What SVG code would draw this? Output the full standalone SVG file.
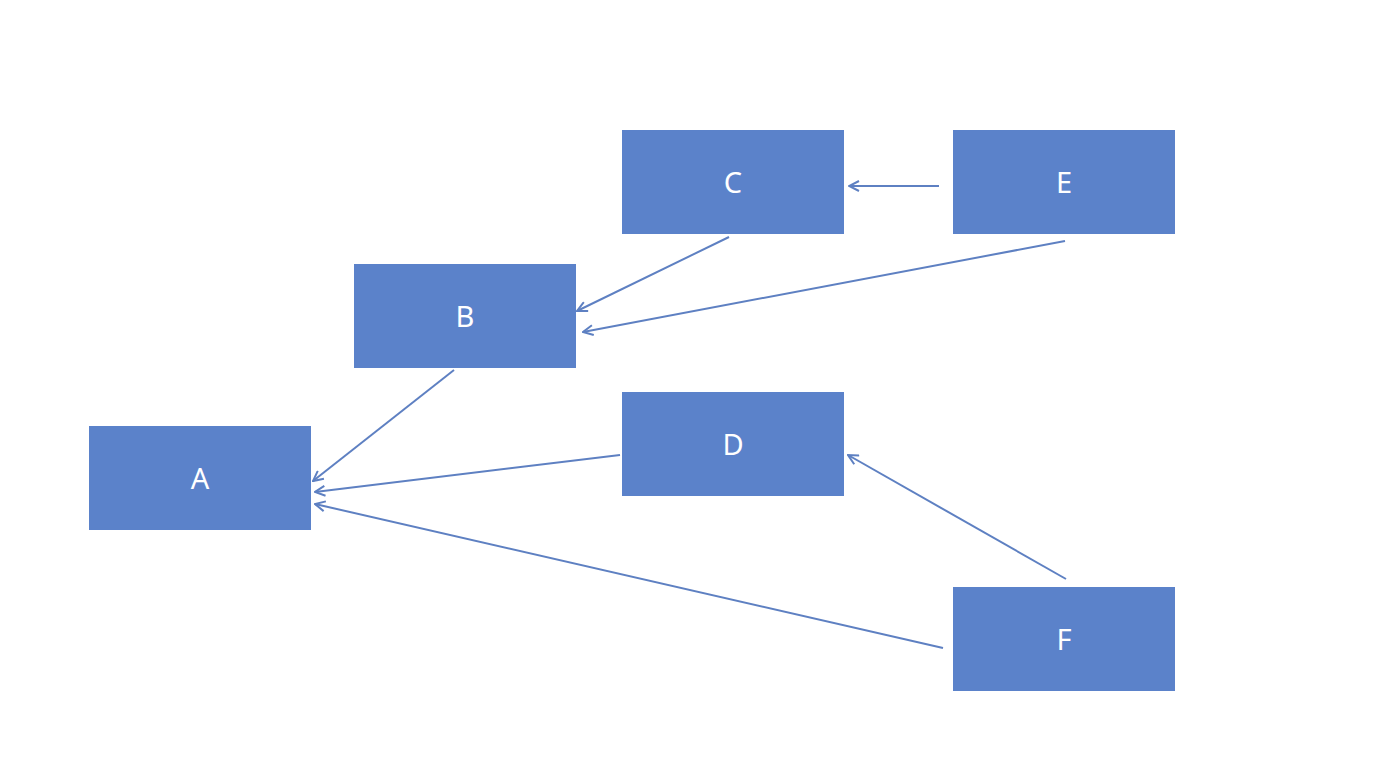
<svg xmlns="http://www.w3.org/2000/svg" width="1387" height="783" viewBox="0 0 1387 783">
<style>
.node rect{fill:#5B82CA;}
.node text{fill:#ffffff;font-family:"Noto Sans","Open Sans",sans-serif;font-size:29px;text-anchor:middle;dominant-baseline:central;}
.conn line{stroke:#5E80C2;stroke-width:2;fill:none;marker-end:url(#arr);}
</style>
<defs>
<marker id="arr" viewBox="0 0 12 12" refX="11" refY="6" markerWidth="12" markerHeight="12" markerUnits="userSpaceOnUse" orient="auto">
<path d="M1,1 L11,6 L1,11" fill="none" stroke="#5E80C2" stroke-width="2"/>
</marker>
</defs>
<rect width="1387" height="783" fill="#ffffff"/>
<g id="connectors" class="conn">
<line x1="939" y1="186" x2="849" y2="186"/>
<line x1="729" y1="237" x2="577" y2="311"/>
<line x1="1065" y1="241" x2="583" y2="332"/>
<line x1="454" y1="370" x2="313" y2="481"/>
<line x1="620" y1="455" x2="315" y2="492"/>
<line x1="943" y1="648" x2="315" y2="504"/>
<line x1="1066" y1="579" x2="848" y2="455"/>
</g>
<g id="node-A" class="node"><rect x="89" y="426" width="222" height="104"/><text x="200" y="477">A</text></g>
<g id="node-B" class="node"><rect x="354" y="264" width="222" height="104"/><text x="465" y="315">B</text></g>
<g id="node-C" class="node"><rect x="622" y="130" width="222" height="104"/><text x="733" y="181">C</text></g>
<g id="node-D" class="node"><rect x="622" y="392" width="222" height="104"/><text x="733" y="443">D</text></g>
<g id="node-E" class="node"><rect x="953" y="130" width="222" height="104"/><text x="1064" y="181">E</text></g>
<g id="node-F" class="node"><rect x="953" y="587" width="222" height="104"/><text x="1064" y="638">F</text></g>
</svg>
